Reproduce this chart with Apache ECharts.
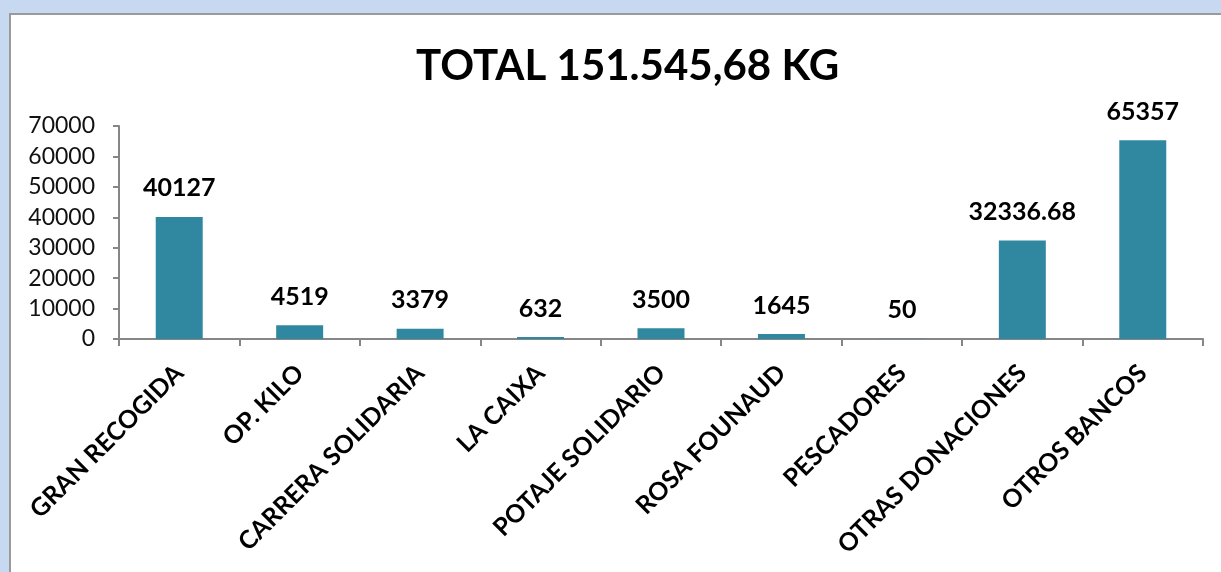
<!DOCTYPE html>
<html>
<head>
<meta charset="utf-8">
<script src="https://cdn.jsdelivr.net/npm/echarts@6/dist/echarts.min.js"></script>
<style>
  html, body { margin: 0; padding: 0; }
  #chart { width: 1221px; height: 572px; }
</style>
</head>
<body>
<div id="chart"></div>
<script>
// datos del gráfico
const categorias = ['GRAN RECOGIDA', 'OP. KILO', 'CARRERA SOLIDARIA', 'LA CAIXA', 'POTAJE SOLIDARIO', 'ROSA FOUNAUD', 'PESCADORES', 'OTRAS DONACIONES', 'OTROS BANCOS'];
const kilos = [40127, 4519, 3379, 632, 3500, 1645, 50, 32336.68, 65357];
const titulo = 'TOTAL 151.545,68 KG';

const chart = echarts.init(document.getElementById('chart'));

const option = {
    backgroundColor: '#c6d9f1',
    animation: false,
    graphic: [
        {
            type: 'rect',
            z: -10,
            shape: { x: 10, y: 14, width: 1230, height: 580 },
            style: { fill: '#ffffff', stroke: '#9a9a9a', lineWidth: 2 }
        }
    ],
    title: {
        text: titulo,
        left: 411,
        top: 40,
        textStyle: {
            fontFamily: 'Lato',
            fontWeight: 'bold',
            fontSize: 42,
            color: '#000'
        }
    },
    grid: {
        left: 119,
        right: 18,
        top: 126,
        bottom: 233
    },
    xAxis: {
        type: 'category',
        data: categorias,
        axisLine: { lineStyle: { color: '#868686', width: 2 } },
        axisTick: { show: true, interval: 0, length: 7, lineStyle: { color: '#868686', width: 2 } },
        axisLabel: {
            interval: 0,
            rotate: 45,
            margin: 30,
            fontFamily: 'Lato',
            fontWeight: 'bold',
            fontSize: 25,
            color: '#000'
        }
    },
    yAxis: {
        type: 'value',
        min: 0,
        max: 70000,
        interval: 10000,
        splitLine: { show: false },
        axisLine: { show: true, lineStyle: { color: '#868686', width: 2 } },
        axisTick: { show: true, length: 6, lineStyle: { color: '#868686', width: 2 } },
        axisLabel: {
            margin: 24,
            fontFamily: 'Lato',
            fontSize: 23,
            color: '#111',
            formatter: function (v) { return String(v); }
        }
    },
    series: [
        {
            type: 'bar',
            data: kilos,
            barWidth: '39%',
            itemStyle: { color: '#2f88a0' },
            label: {
                show: true,
                position: 'top',
                distance: 16,
                fontFamily: 'Lato',
                fontWeight: 'bold',
                fontSize: 25,
                color: '#000'
            }
        }
    ]
};

chart.setOption(option);
</script>
</body>
</html>
